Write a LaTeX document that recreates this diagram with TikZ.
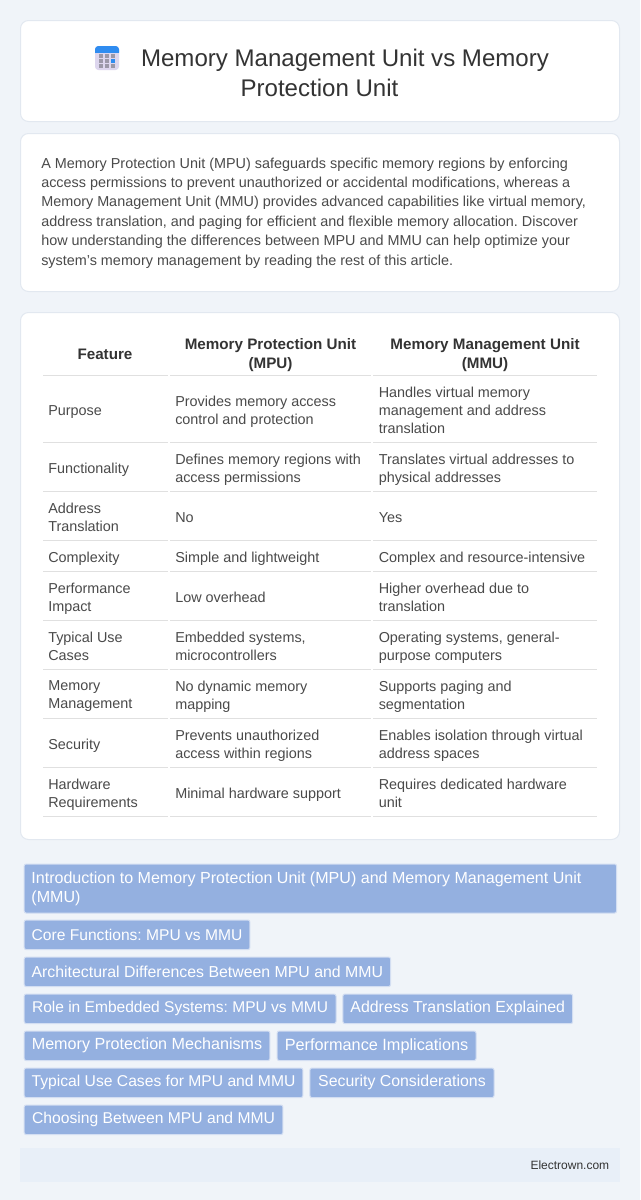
\documentclass[tikz,border=0pt]{standalone}
\usepackage{fontspec}
\setmainfont{Liberation Sans}
\usetikzlibrary{positioning}
\definecolor{pagebg}{HTML}{F0F4F9}
\definecolor{cardline}{HTML}{E2E8F0}
\definecolor{titleink}{HTML}{333333}
\definecolor{bodyink}{HTML}{4A4A4A}
\definecolor{ruleink}{HTML}{E0E0E0}
\definecolor{tagfill}{HTML}{94B0E0}
\definecolor{tagline}{HTML}{D3DEF2}
\definecolor{footfill}{HTML}{E8EFF8}
\definecolor{iconbody}{HTML}{DDD6EE}
\definecolor{iconband}{HTML}{2F8CF0}
\definecolor{icondot}{HTML}{9C98A8}
\tikzset{
	card/.style={draw=cardline,fill=white,line width=0.75pt,rounded corners=6pt},
	titletext/.style={text=titleink,inner sep=0pt,align=center,font=\fontsize{18.05pt}{21.8pt}\selectfont},
	paratext/.style={text=bodyink,inner sep=0pt,anchor=north west,align=left,font=\fontsize{10.8pt}{14.55pt}\selectfont},
	headtext/.style={text=titleink,inner sep=0pt,align=center,font=\fontsize{11.4pt}{13.7pt}\selectfont\bfseries},
	celltext/.style={text=bodyink,inner sep=0pt,anchor=west,align=left,font=\fontsize{10.8pt}{13.5pt}\selectfont,
		execute at begin node={\rule{0pt}{8pt}},execute at end node={\rule[-2.5pt]{0pt}{0pt}}},
	tablerule/.style={draw=ruleink,line width=0.9pt},
	tagbox/.style={draw=tagline,fill=tagfill,text=white,line width=0.75pt,rounded corners=1.5pt,anchor=north west,
		inner xsep=2pt,inner ysep=0pt,minimum height=22.2pt,font=\fontsize{#1}{14.55pt}\selectfont,
		execute at begin node={\rule{0pt}{8.6pt}},execute at end node={\rule[-0.4pt]{0pt}{0pt}}},
	tagbox/.default=11.9pt,
	tagw/.style={minimum width=#1*0.75pt},
	dot/.style={fill=icondot,inner sep=0pt,minimum size=3pt}
}
\begin{document}
\frenchspacing
\begin{tikzpicture}[x=0.75pt,y=-0.75pt]
	\useasboundingbox[fill=pagebg] (0,0) rectangle (640,1200);
	
	% cards
	\draw[card] (20.5,20.5) rectangle (619.5,121.5);
	\draw[card] (20.5,133.5) rectangle (619.5,291.5);
	\draw[card] (20.5,312.5) rectangle (619.5,839.5);
	
	% icon
	\fill[iconbody,rounded corners=2.5pt] (95,46) rectangle (119,70);
	\fill[iconband,rounded corners=2.5pt] (95,46) rectangle (119,56);
	\fill[iconbody] (95,53) rectangle (119,58);
	\node[dot] (d11) at (101,56) {};
	\node[dot] (d12) at (107,56) {};
	\node[dot] (d13) at (113,56) {};
	\node[dot] (d21) at (101,61) {};
	\node[dot] (d22) at (107,61) {};
	\node[dot,fill=iconband] (d23) at (113,61) {};
	\node[dot] (d31) at (101,66) {};
	\node[dot] (d32) at (107,66) {};
	\node[dot] (d33) at (113,66) {};
	
	% heading
	\node[titletext] (title1) at (345,60) {Memory Management Unit vs Memory};
	\node[titletext] (title2) at (319.5,88) {Protection Unit};
	
	% intro
	\node[paratext] (intro) at (41,157.3) {A Memory Protection Unit (MPU) safeguards specific memory regions by enforcing\\
		access permissions to prevent unauthorized or accidental modifications, whereas a\\
		Memory Management Unit (MMU) provides advanced capabilities like virtual memory,\\
		address translation, and paging for efficient and flexible memory allocation. Discover\\
		how understanding the differences between MPU and MMU can help optimize your\\
		system's memory management by reading the rest of this article.};
	
	%%%%%%%%%%%%%%%%%%%%%%%%%%%%%%
	
	\node[headtext] (hfeature) at (105,354.5) {Feature};
	\node[headtext] (hmpu) at (270.5,355) {Memory Protection Unit\\(MPU)};
	\node[headtext] (hmmu) at (485,355) {Memory Management Unit\\(MMU)};
	
	\node[celltext] (r1a) at (48,411.7) {Purpose};
	\node[celltext] (r1b) at (175,411.7) {Provides memory access\\control and protection};
	\node[celltext] (r1c) at (378.5,411.7) {Handles virtual memory\\management and address\\translation};
	
	\node[celltext] (r2a) at (48,469.7) {Functionality};
	\node[celltext] (r2b) at (175,469.7) {Defines memory regions with\\access permissions};
	\node[celltext] (r2c) at (378.5,469.7) {Translates virtual addresses to\\physical addresses};
	
	\node[celltext] (r3a) at (48,518.7) {Address\\Translation};
	\node[celltext] (r3b) at (175,518.7) {No};
	\node[celltext] (r3c) at (378.5,518.7) {Yes};
	
	\node[celltext] (r4a) at (48,558.7) {Complexity};
	\node[celltext] (r4b) at (175,558.7) {Simple and lightweight};
	\node[celltext] (r4c) at (378.5,558.7) {Complex and resource-intensive};
	
	\node[celltext] (r5a) at (48,598.7) {Performance\\Impact};
	\node[celltext] (r5b) at (175,598.7) {Low overhead};
	\node[celltext] (r5c) at (378.5,598.7) {Higher overhead due to\\translation};
	
	\node[celltext] (r6a) at (48,647.7) {Typical Use\\Cases};
	\node[celltext] (r6b) at (175,647.7) {Embedded systems,\\microcontrollers};
	\node[celltext] (r6c) at (378.5,647.7) {Operating systems, general-\\purpose computers};
	
	\node[celltext] (r7a) at (48,696.7) {Memory\\Management};
	\node[celltext] (r7b) at (175,696.7) {No dynamic memory\\mapping};
	\node[celltext] (r7c) at (378.5,696.7) {Supports paging and\\segmentation};
	
	\node[celltext] (r8a) at (48,745.7) {Security};
	\node[celltext] (r8b) at (175,745.7) {Prevents unauthorized\\access within regions};
	\node[celltext] (r8c) at (378.5,745.7) {Enables isolation through virtual\\address spaces};
	
	\node[celltext] (r9a) at (48,794.7) {Hardware\\Requirements};
	\node[celltext] (r9b) at (175,794.7) {Minimal hardware support};
	\node[celltext] (r9c) at (378.5,794.7) {Requires dedicated hardware\\unit};
	
	% rules under each row
	\foreach \y in {375.5,442.5,491.5,540.5,571.5,620.5,669.5,718.5,767.5,816.5}{
		\draw[tablerule] (43,\y) -- (168,\y);
		\draw[tablerule] (170,\y) -- (371,\y);
		\draw[tablerule] (373,\y) -- (597,\y);
	}
	
	%%%%%%%%%%%%%%%%%%%%%%%%%%%%%%
	
	\node[tagbox=12.05pt,inner xsep=5.4pt,text width=433.5pt,align=flush left,minimum height=36.8pt] (tag1) at (23.7,863.5) {Introduction to Memory Protection Unit (MPU) and Memory Management Unit\\(MMU)};
	\node[tagbox=11.7pt,tagw=225.7] (tag2) at (23.7,919.5) {Core Functions: MPU vs MMU};
	\node[tagbox,tagw=366.3] (tag3) at (23.7,956.5) {Architectural Differences Between MPU and MMU};
	\node[tagbox=11.65pt,tagw=311.8] (tag4) at (23.7,993.5) {Role in Embedded Systems: MPU vs MMU};
	\node[tagbox,tagw=229.8] (tag5) at (342.4,993.5) {Address Translation Explained};
	\node[tagbox=12.1pt,tagw=245.7] (tag6) at (23.7,1030.5) {Memory Protection Mechanisms};
	\node[tagbox=12.2pt,tagw=198.8] (tag7) at (276.7,1030.5) {Performance Implications};
	\node[tagbox=11.75pt,tagw=278.7] (tag8) at (23.7,1067.5) {Typical Use Cases for MPU and MMU};
	\node[tagbox,tagw=184.1] (tag9) at (309.4,1067.5) {Security Considerations};
	\node[tagbox=11.75pt,tagw=258.7] (tag10) at (23.7,1104.5) {Choosing Between MPU and MMU};
	
	% footer
	\fill[footfill] (20,1148) rectangle (620,1182);
	\node[inner sep=0pt,anchor=east,text=titleink,font=\fontsize{9pt}{11pt}\selectfont] (site) at (609.5,1164.7) {Electrown.com};
\end{tikzpicture}
\end{document}
